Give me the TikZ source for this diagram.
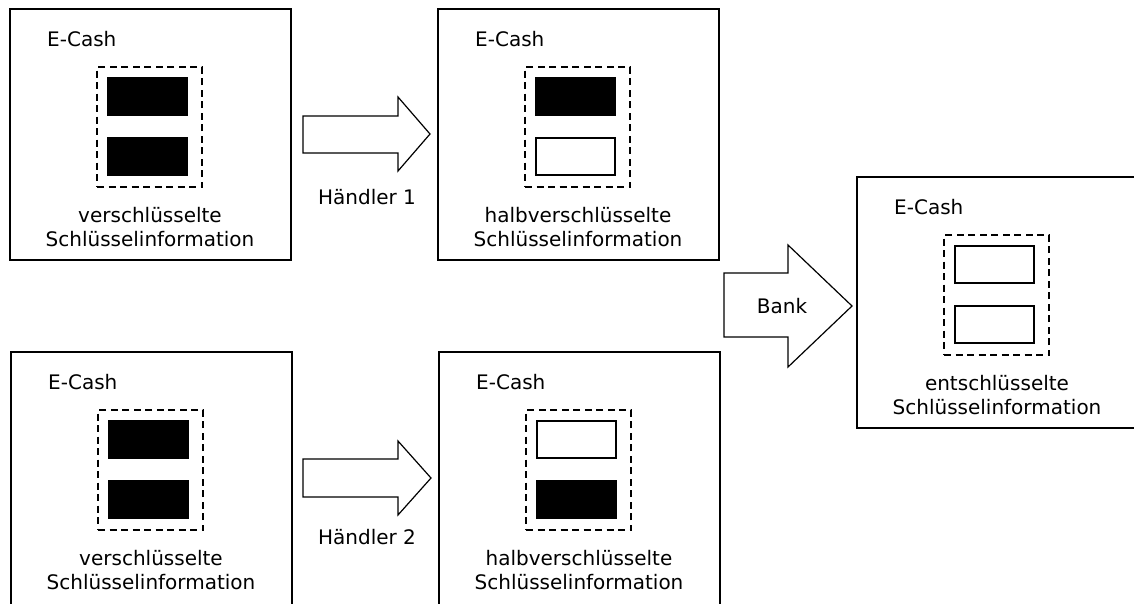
\documentclass[tikz,border=0pt]{standalone}
\usepackage{fontspec}
\setmainfont{DejaVu Sans}
\newcommand\labelfont{\fontsize{20}{24}\selectfont}
\tikzset{
  card/.style={draw, line width=1.6pt, minimum width=281pt, minimum height=251pt,
    anchor=north west, inner sep=0pt, outer sep=0pt},
  keyframe/.style={draw, dash pattern=on 7pt off 4.5pt, line width=1.4pt,
    minimum width=105pt, minimum height=120pt, anchor=north west, inner sep=0pt, outer sep=0pt},
  keyon/.style={draw, fill=black, line width=1.5pt, minimum width=79pt, minimum height=37pt,
    anchor=north west, inner sep=0pt, outer sep=0pt},
  keyoff/.style={keyon, fill=white},
  title/.style={anchor=base west, inner sep=0pt, font=\labelfont},
  caption/.style={anchor=base, inner sep=0pt, font=\labelfont},
  blockarrow/.style={draw, line width=1.2pt, fill=white, line join=miter},
}
% #1 name, #2 x, #3 y, #4 extra card options, #5 upper key, #6 lower key, #7 first caption line
\newcommand\ecashcard[7]{%
  \node[card, #4] (#1) at (#2,#3) {};
  \node[title] (#1-title) at ([shift={(37,37)}]#1.north west) {E-Cash};
  \node[keyframe] (#1-frame) at ([shift={(87,58)}]#1.north west) {};
  \node[#5] (#1-upper) at ([shift={(11,11)}]#1-frame.north west) {};
  \node[#6] (#1-lower) at ([shift={(11,71)}]#1-frame.north west) {};
  \node[caption] (#1-cap1) at ([shift={(140,213)}]#1.north west) {#7};
  \node[caption] (#1-cap2) at ([shift={(140,237)}]#1.north west) {Schlüsselinformation};
}
\begin{document}
\begin{tikzpicture}[x=1pt, y=-1pt]
  \path[use as bounding box, clip] (0,0) rectangle (1134,603);

  % original coins
  \ecashcard{orig1}{10}{9}{}{keyon}{keyon}{verschlüsselte}
  \ecashcard{orig2}{11}{352}{minimum height=265pt}{keyon}{keyon}{verschlüsselte}

  % after each merchant
  \ecashcard{half1}{438}{9}{}{keyon}{keyoff}{halbverschlüsselte}
  \ecashcard{half2}{439}{352}{minimum height=265pt}{keyoff}{keyon}{halbverschlüsselte}

  % after the bank
  \ecashcard{plain}{857}{177}{}{keyoff}{keyoff}{entschlüsselte}

  % merchant 1
  \draw[blockarrow] (303,116) -- (398,116) -- (398,97) -- (430,134) -- (398,171)
    -- (398,153) -- (303,153) -- cycle;
  \node[caption] (h1) at (367,204) {Händler 1};

  % merchant 2
  \draw[blockarrow] (303,459) -- (398,459) -- (398,441) -- (431,478) -- (398,515)
    -- (398,497) -- (303,497) -- cycle;
  \node[caption] (h2) at (367,544) {Händler 2};

  % bank
  \draw[blockarrow] (724,273) -- (788,273) -- (788,245) -- (852,306) -- (788,367)
    -- (788,337) -- (724,337) -- cycle;
  \node[caption] (bank) at (782,313) {Bank};
\end{tikzpicture}
\end{document}
